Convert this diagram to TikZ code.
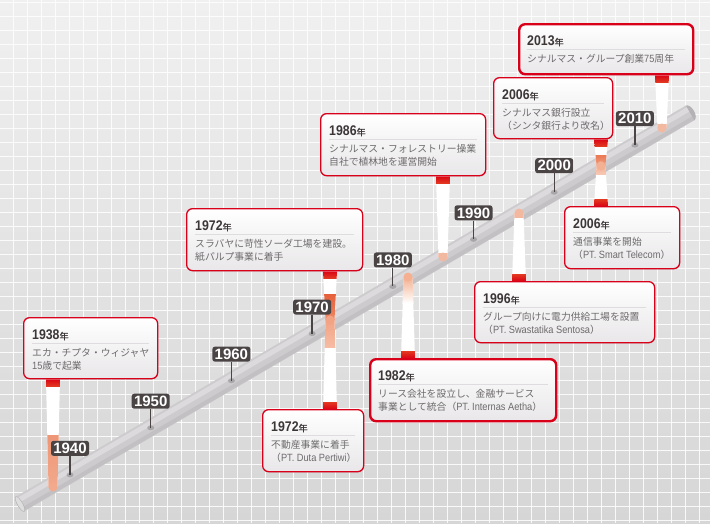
\documentclass[tikz,border=0pt]{standalone}
\usepackage{fontspec}
\setmainfont{Liberation Sans}
\newfontfamily\jp{Noto Sans CJK JP}
\newfontfamily\jpb{Noto Sans CJK JP}[FakeBold=1.5]
\newfontfamily\tnum{Liberation Sans}[FakeStretch=0.88]
\usetikzlibrary{calc,shadows}

\definecolor{bgtop}{HTML}{F1F0F1}
\definecolor{bgbot}{HTML}{D7D6D7}
\definecolor{rodc}{HTML}{CDCBCD}
\definecolor{rodface}{HTML}{DFDEDF}
\definecolor{rodfar}{HTML}{B4B2B4}
\definecolor{labc}{HTML}{4A4445}
\definecolor{evred}{HTML}{D9001A}
\definecolor{capred}{HTML}{DA0514}
\definecolor{capred2}{HTML}{E23A22}
\definecolor{ttlc}{HTML}{3C3637}
\definecolor{bodyc}{HTML}{6C6A6B}
\definecolor{sepc}{HTML}{DEDCDE}
\definecolor{boxbot}{HTML}{E9E7E9}
\definecolor{salA}{HTML}{EE9676}
\definecolor{salB}{HTML}{F2A98C}
\definecolor{orA}{HTML}{E5603A}
\definecolor{orB}{HTML}{EE8A66}
\definecolor{dotA}{HTML}{F3B8A0}
\definecolor{orC}{HTML}{EB7A55}
\definecolor{orD}{HTML}{F09A7A}
\definecolor{salC}{HTML}{F2A384}
\definecolor{salD}{HTML}{F6BCA4}
\definecolor{salE}{HTML}{F4B090}
\definecolor{salF}{HTML}{F3B092}
\definecolor{salG}{HTML}{F6C8B4}

\tikzset{
  gridline/.style={white, line width=1.3pt, opacity=0.85},
  declab/.style={fill=labc, rounded corners=2.5pt, minimum width=38pt, minimum height=15pt,
    inner sep=0pt, text=white, font=\bfseries\fontsize{15}{15}\selectfont},
  tickline/.style={labc, line width=1.3pt},
  evbox/.style={draw=evred, line width=1.3pt, rounded corners=6pt, top color=white,
    bottom color=boxbot, inner sep=0pt, anchor=north west,
    drop shadow={shadow xshift=0.6pt, shadow yshift=-1.2pt, opacity=0.15}},
  evboxthick/.style={evbox, line width=2.4pt},
  ttl/.style={anchor=base west, inner sep=0pt, text=ttlc},
  bdy/.style={anchor=base west, inner sep=0pt, text=bodyc, font=\jp\fontsize{9.8}{12}\selectfont},
  sepline/.style={sepc, line width=0.7pt},
}

\newcommand\yrttl[1]{{\tnum\bfseries\fontsize{14}{14}\selectfont #1}{\jpb\fontsize{9}{9}\selectfont 年}}
\newcommand\lat[1]{{\tnum\fontsize{10.5}{12}\selectfont #1}}

% stem from box (above) down to rod
\newcommand\stemdown[5]{%
  \begin{scope}
    \clip ([xshift=-7pt]#1) -- ([xshift=7pt]#1) -- ([xshift=4.5pt]#2) -- ([xshift=-4.5pt]#2) -- cycle;
    \fill[white] ([xshift=-8pt]#1) rectangle ([xshift=8pt]#2);
    \shade[top color=#4, bottom color=#5] ([xshift=-8pt]#2) rectangle ([xshift=8pt,yshift=#3pt]#2);
    \shade[top color=capred, bottom color=capred2] ([xshift=-8pt]#1) rectangle ([xshift=8pt,yshift=-7pt]#1);
  \end{scope}
  \fill[#5] (#2) circle[radius=4.5pt];
}
% stem from box (below) up to rod
\newcommand\stemup[5]{%
  \begin{scope}
    \clip ([xshift=-7pt]#1) -- ([xshift=7pt]#1) -- ([xshift=4.5pt]#2) -- ([xshift=-4.5pt]#2) -- cycle;
    \fill[white] ([xshift=-8pt]#1) rectangle ([xshift=8pt]#2);
    \shade[top color=#4, bottom color=#5] ([xshift=-8pt]#2) rectangle ([xshift=8pt,yshift=-#3pt]#2);
    \shade[top color=capred2, bottom color=capred] ([xshift=-8pt]#1) rectangle ([xshift=8pt,yshift=7pt]#1);
  \end{scope}
  \fill[#4] (#2) circle[radius=4.5pt];
}

\begin{document}
\begin{tikzpicture}[x=1pt,y=-1pt]
\useasboundingbox (0,0) rectangle (710,523);
\shade[top color=bgtop, bottom color=bgbot] (0,0) rectangle (710,523);
\foreach \i in {0,...,49} \draw[gridline] ({13.3+14*\i},0) -- ({13.3+14*\i},523);
\foreach \j in {0,...,37} \draw[gridline] (0,{2.7+14*\j}) -- (710,{2.7+14*\j});

% rod
\coordinate (rA) at (20,504);
\coordinate (rB) at (690,113);
\begin{scope}[shift={(rB)}, rotate=30.27]
  \fill[rodfar] (0,0) ellipse (4.5 and 8.5);
\end{scope}
\draw[rodc, line width=17pt] (rA) -- (rB);
\draw[white, opacity=0.3, line width=5pt] ($(rA)+(-2.0,-3.5)$) -- ($(rB)+(-2.0,-3.5)$);
\draw[black, opacity=0.05, line width=4pt] ($(rA)+(3.0,5.2)$) -- ($(rB)+(3.0,5.2)$);
\begin{scope}[shift={(rA)}, rotate=30.27]
  \filldraw[fill=rodface, draw=rodc!85!black, line width=0.4pt] (0,0) ellipse (2.6 and 8.5);
\end{scope}

% event boxes
\node[evbox, minimum width=134pt, minimum height=61pt] (b38) at (23,317) {};
\node[evbox, minimum width=176pt, minimum height=62pt] (b72u) at (186,208) {};
\node[evbox, minimum width=101pt, minimum height=62pt] (b72d) at (262,409) {};
\node[evboxthick, minimum width=186pt, minimum height=62pt] (b82) at (369,358) {};
\node[evbox, minimum width=165pt, minimum height=62pt] (b86) at (320,113) {};
\node[evbox, minimum width=180pt, minimum height=61pt] (b96) at (474,281) {};
\node[evbox, minimum width=115pt, minimum height=62pt] (b06d) at (564,206) {};
\node[evbox, minimum width=119pt, minimum height=61pt] (b06u) at (493,77) {};
\node[evboxthick, minimum width=174pt, minimum height=50pt] (b13) at (518,23) {};

% titles, separators, body text
\foreach \b/\y in {b38/1938, b72u/1972, b72d/1972, b82/1982, b86/1986, b96/1996, b06d/2006, b06u/2006, b13/2013} {
  \node[ttl] (\b t) at ([xshift=9pt,yshift=-22.5pt]\b.north west) {\yrttl{\y}};
  \draw[sepline] ([xshift=9pt,yshift=-26.5pt]\b.north west) -- ([xshift=-9pt,yshift=-26.5pt]\b.north east);
}
\node[bdy] (b38a) at ([xshift=9pt,yshift=-39.5pt]b38.north west) {エカ・チプタ・ウィジャヤ};
\node[bdy] (b38b) at ([xshift=9pt,yshift=-52.5pt]b38.north west) {\lat{15}歳で起業};
\node[bdy] (b72ua) at ([xshift=9pt,yshift=-39.5pt]b72u.north west) {スラバヤに苛性ソーダ工場を建設。};
\node[bdy] (b72ub) at ([xshift=9pt,yshift=-52.5pt]b72u.north west) {紙パルプ事業に着手};
\node[bdy] (b72da) at ([xshift=9pt,yshift=-39.5pt]b72d.north west) {不動産事業に着手};
\node[bdy] (b72db) at ([xshift=9pt,yshift=-52.5pt]b72d.north west) {（\lat{PT. Duta Pertiwi}）};
\node[bdy] (b82a) at ([xshift=9pt,yshift=-39.5pt]b82.north west) {リース会社を設立し、金融サービス};
\node[bdy] (b82b) at ([xshift=9pt,yshift=-52.5pt]b82.north west) {事業として統合（\lat{PT. Internas Aetha}）};
\node[bdy] (b86a) at ([xshift=9pt,yshift=-39.5pt]b86.north west) {シナルマス・フォレストリー操業};
\node[bdy] (b86b) at ([xshift=9pt,yshift=-52.5pt]b86.north west) {自社で植林地を運営開始};
\node[bdy] (b96a) at ([xshift=9pt,yshift=-39.5pt]b96.north west) {グループ向けに電力供給工場を設置};
\node[bdy] (b96b) at ([xshift=9pt,yshift=-52.5pt]b96.north west) {（\lat{PT. Swastatika Sentosa}）};
\node[bdy] (b06da) at ([xshift=9pt,yshift=-39.5pt]b06d.north west) {通信事業を開始};
\node[bdy] (b06db) at ([xshift=9pt,yshift=-52.5pt]b06d.north west) {（\lat{PT. Smart Telecom}）};
\node[bdy] (b06ua) at ([xshift=9pt,yshift=-39.5pt]b06u.north west) {シナルマス銀行設立};
\node[bdy] (b06ub) at ([xshift=9pt,yshift=-52.5pt]b06u.north west) {（シンタ銀行より改名）};
\node[bdy] (b13a) at ([xshift=9pt,yshift=-39.5pt]b13.north west) {シナルマス・グループ創業\lat{75}周年};

% rod end points of stems
\coordinate (r38) at (53,487);
\coordinate (r72u) at (330,320);
\coordinate (r72d) at (330,320);
\coordinate (r82) at (408,277);
\coordinate (r86) at (443,257);
\coordinate (r96) at (519,213);
\coordinate (r06u) at (601,165);
\coordinate (r06d) at (601,166);
\coordinate (r13) at (662,128);
\coordinate (t38) at (r38 |- b38.south);
\coordinate (t72u) at (r72u |- b72u.south);
\coordinate (t72d) at (r72d |- b72d.north);
\coordinate (t82) at (r82 |- b82.north);
\coordinate (t86) at (r86 |- b86.south);
\coordinate (t96) at (r96 |- b96.north);
\coordinate (t06u) at (r06u |- b06u.south);
\coordinate (t06d) at (r06d |- b06d.north);
\coordinate (t13) at (r13 |- b13.south);

\stemdown{t38}{r38}{52}{salA}{salB}
\stemdown{t72u}{r72u}{26}{orA}{orB}
\stemdown{t86}{r86}{4}{dotA}{dotA}
\stemdown{t06u}{r06u}{10}{orC}{orD}
\stemdown{t13}{r13}{4}{dotA}{dotA}
\stemup{t72d}{r72d}{27}{salC}{salD}
\stemup{t82}{r82}{26}{salE}{white}
\stemup{t96}{r96}{4}{dotA}{dotA}
\stemup{t06d}{r06d}{8}{salF}{salG}

% decade labels
\foreach \yr [count=\k from 0] in {1940,1950,...,2010} {
  \pgfmathsetmacro\xx{70+80.7*\k}
  \pgfmathsetmacro\yy{504-0.5836*(\xx-20)}
  \coordinate (d\yr) at (\xx,\yy);
  \fill[black, opacity=0.18] (d\yr) ellipse (3.5 and 2.5);
  \node[declab] (l\yr) at (\xx,\yy-26.5) {\yr};
  \draw[tickline] (l\yr.south) -- (d\yr);
}
\end{tikzpicture}
\end{document}
